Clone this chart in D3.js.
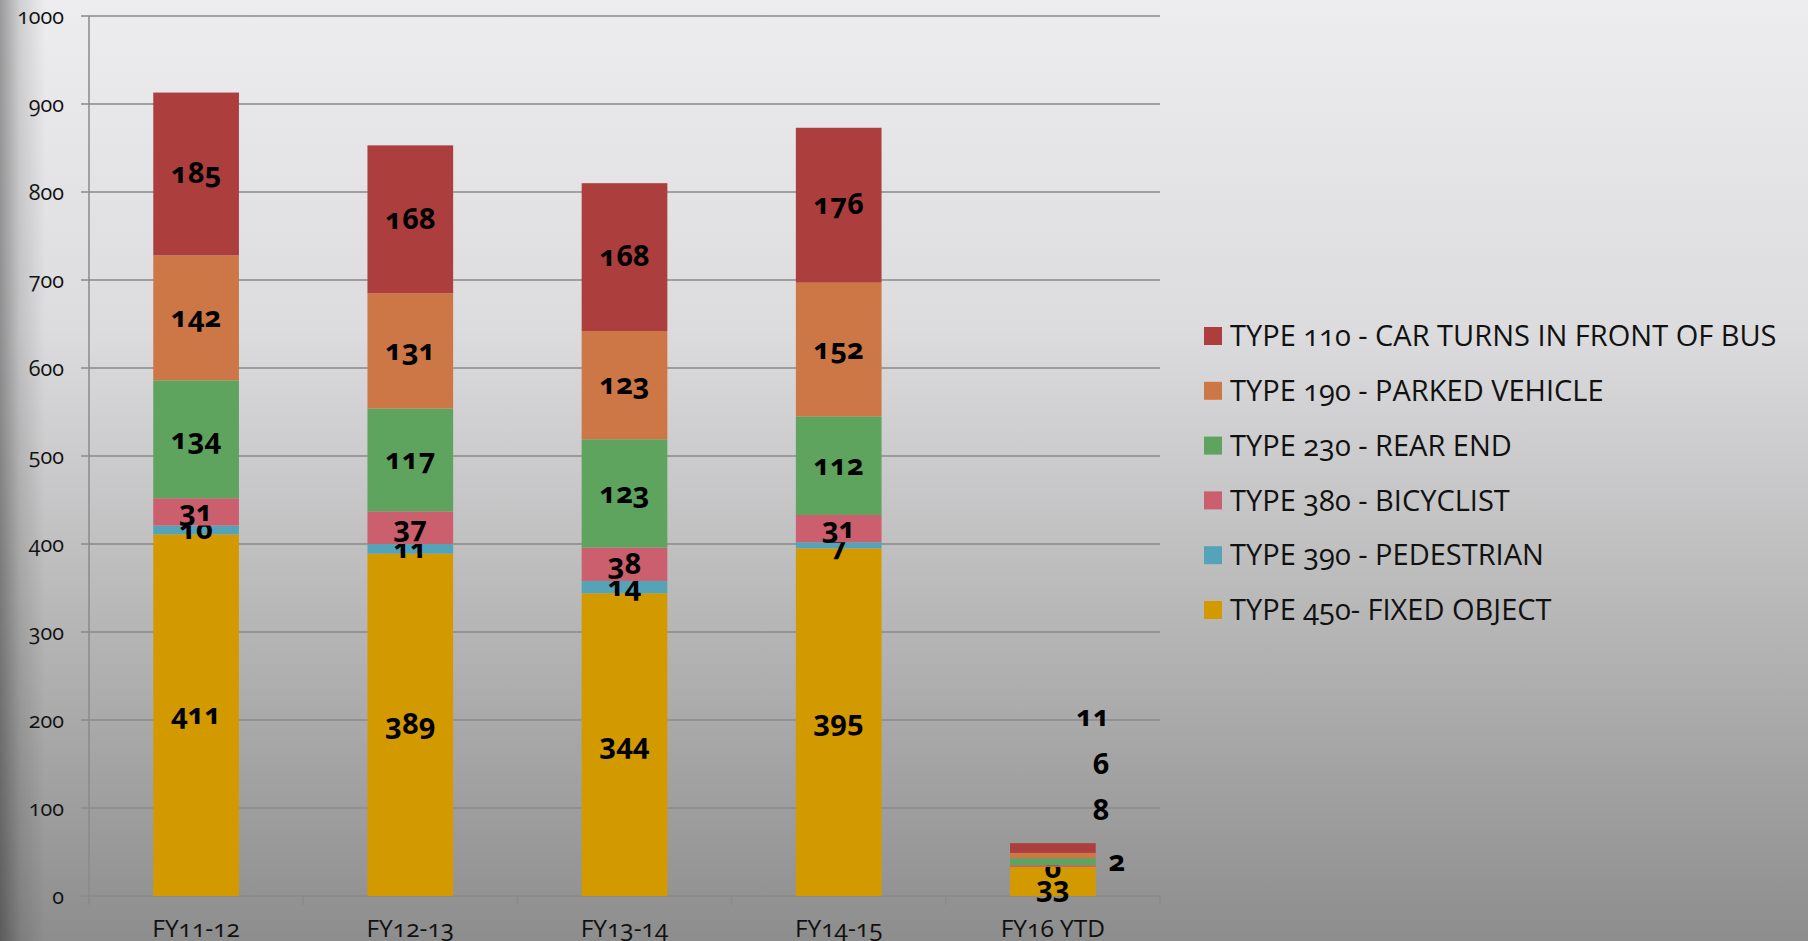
<!DOCTYPE html>
<html>
<head>
<meta charset="utf-8">
<script src="https://cdn.jsdelivr.net/npm/d3@7"></script>
<style>
    html, body { margin: 0; padding: 0; overflow: hidden; }
    svg { display: block; font-family: "Open Sans", "Noto Sans", sans-serif; }
    .num { font-variant-numeric: oldstyle-nums; font-feature-settings: "onum" 1; }
    .grid line { stroke: #8a8a8a; stroke-width: 1.5; }
    .axis-line { stroke: #8a8a8a; stroke-width: 1.5; }
</style>
</head>
<body>
<div id="chart"></div>
<script>

// Categories (fiscal years)
const years = ["FY11-12", "FY12-13", "FY13-14", "FY14-15", "FY16 YTD"];

// Accident types, bottom to top of each stack
const types = [
    "TYPE 450- FIXED OBJECT",
    "TYPE 390 - PEDESTRIAN",
    "TYPE 380 - BICYCLIST",
    "TYPE 230 - REAR END",
    "TYPE 190 - PARKED VEHICLE",
    "TYPE 110 - CAR TURNS IN FRONT OF BUS"
];

// Counts per type, one value per year
const fixedObject = [411, 389, 344, 395, 33];
const pedestrian  = [10, 11, 14, 7, 0];
const bicyclist   = [31, 37, 38, 31, 2];
const rearEnd     = [134, 117, 123, 112, 8];
const parked      = [142, 131, 123, 152, 6];
const carTurns    = [185, 168, 168, 176, 11];

const yTicks = [0, 100, 200, 300, 400, 500, 600, 700, 800, 900, 1000];

const colors = ["#d39a00", "#55a3b8", "#cb5f6d", "#5ea35e", "#cd7747", "#ad3e3e"];

// Build a row-per-year table for d3.stack
const series = [fixedObject, pedestrian, bicyclist, rearEnd, parked, carTurns];
const table = years.map((yr, i) => {
    let row = {year: yr};
    types.forEach((t, j) => { row[t] = series[j][i]; });
    return row;
});

const width = 1808, height = 941;
const margin = {top: 16, right: 648, bottom: 45, left: 89};

const svg = d3.select("#chart").append("svg")
    .attr("width", width)
    .attr("height", height);

// Background: light grey at the top fading darker toward the bottom
let defs = svg.append("defs");
let bg = defs.append("linearGradient").attr("id", "bg")
    .attr("x1", 0).attr("y1", 0).attr("x2", 0).attr("y2", 1);
bg.append("stop").attr("offset", "0%").attr("stop-color", "#ededef");
bg.append("stop").attr("offset", "35%").attr("stop-color", "#dcdcde");
bg.append("stop").attr("offset", "100%").attr("stop-color", "#8d8d8d");

let edge = defs.append("linearGradient").attr("id", "edge")
    .attr("x1", 0).attr("y1", 0).attr("x2", 1).attr("y2", 0);
edge.append("stop").attr("offset", "0%").attr("stop-color", "#000").attr("stop-opacity", 0.35);
edge.append("stop").attr("offset", "45%").attr("stop-color", "#000").attr("stop-opacity", 0.12);
edge.append("stop").attr("offset", "100%").attr("stop-color", "#000").attr("stop-opacity", 0);

svg.append("rect").attr("width", width).attr("height", height).attr("fill", "url(#bg)");
svg.append("rect").attr("width", 45).attr("height", height).attr("fill", "url(#edge)");

const plotW = width - margin.left - margin.right;
const innerH = 896 - margin.top;

const x = d3.scaleBand().domain(years).range([margin.left, margin.left + plotW]).paddingInner(0.6).paddingOuter(0.3);
const y = d3.scaleLinear().domain([0, 1000]).range([margin.top + innerH, margin.top]);

// Gridlines
svg.append("g").attr("class", "grid")
    .selectAll("line").data(yTicks).join("line")
        .attr("x1", margin.left - 8).attr("x2", margin.left + plotW)
        .attr("y1", d => y(d)).attr("y2", d => y(d));

// Y axis labels
svg.append("g").attr("class", "num")
    .selectAll("text").data(yTicks).join("text")
        .attr("x", 64)
        .attr("y", d => y(d))
        .attr("dy", "0.35em")
        .attr("text-anchor", "end")
        .attr("font-size", 21.5)
        .attr("fill", "#111")
        .text(d => d);

// Axis lines
svg.append("line").attr("class", "axis-line")
    .attr("x1", margin.left).attr("x2", margin.left)
    .attr("y1", y(1000)).attr("y2", y(0) + 8);

// X axis tick marks at category boundaries
const step = x.step();
const bounds = d3.range(years.length + 1).map(i => margin.left + i * step);
svg.append("g").selectAll("line").data(bounds).join("line")
    .attr("class", "axis-line")
    .attr("x1", d => d).attr("x2", d => d)
    .attr("y1", y(0)).attr("y2", y(0) + 9);

// X labels
svg.append("g").attr("class", "num")
    .selectAll("text").data(years).join("text")
        .attr("x", d => x(d) + x.bandwidth() / 2)
        .attr("y", 937)
        .attr("text-anchor", "middle")
        .attr("font-size", 24.5)
        .attr("fill", "#111")
        .text(d => d);

// Stacked bars
const stacked = d3.stack().keys(types)(table);

const layers = svg.append("g").selectAll("g").data(stacked).join("g")
    .attr("fill", (d, i) => colors[i]);

layers.selectAll("rect").data(d => d).join("rect")
    .attr("x", d => x(d.data.year))
    .attr("width", x.bandwidth())
    .attr("y", d => y(d[1]))
    .attr("height", d => y(d[0]) - y(d[1]));

// Labels for the FY16 YTD stack were dragged outside the bar (pixel nudges)
const ytdNudge = [[0, 6], [0, 2], [64, -4], [48, -51], [48, -91], [40, -131]];

layers.each(function(layer, li) {
    d3.select(this).selectAll("text").data(layer).join("text")
        .attr("class", "num")
        .attr("x", (d, i) => x(d.data.year) + x.bandwidth() / 2 + (i === years.length - 1 ? ytdNudge[li][0] : 0))
        .attr("y", (d, i) => (y(d[0]) + y(d[1])) / 2 + (i === years.length - 1 ? ytdNudge[li][1] : 0))
        .attr("dy", "0.32em")
        .attr("text-anchor", "middle")
        .attr("font-size", 29)
        .attr("font-weight", "bold")
        .attr("fill", "#000")
        .text(d => d[1] - d[0]);
});

// Legend, top series first
const legendItems = types.map((t, i) => ({name: t, color: colors[i]})).reverse();
const legend = svg.append("g").selectAll("g").data(legendItems).join("g")
    .attr("transform", (d, i) => "translate(1204," + (336 + i * 54.8) + ")");

legend.append("rect")
    .attr("x", 0).attr("y", -9)
    .attr("width", 18).attr("height", 18)
    .attr("fill", d => d.color);

legend.append("text")
    .attr("class", "num")
    .attr("x", 26)
    .attr("dy", "0.35em")
    .attr("font-size", 29)
    .attr("fill", "#111")
    .text(d => d.name);

</script>
</body>
</html>
